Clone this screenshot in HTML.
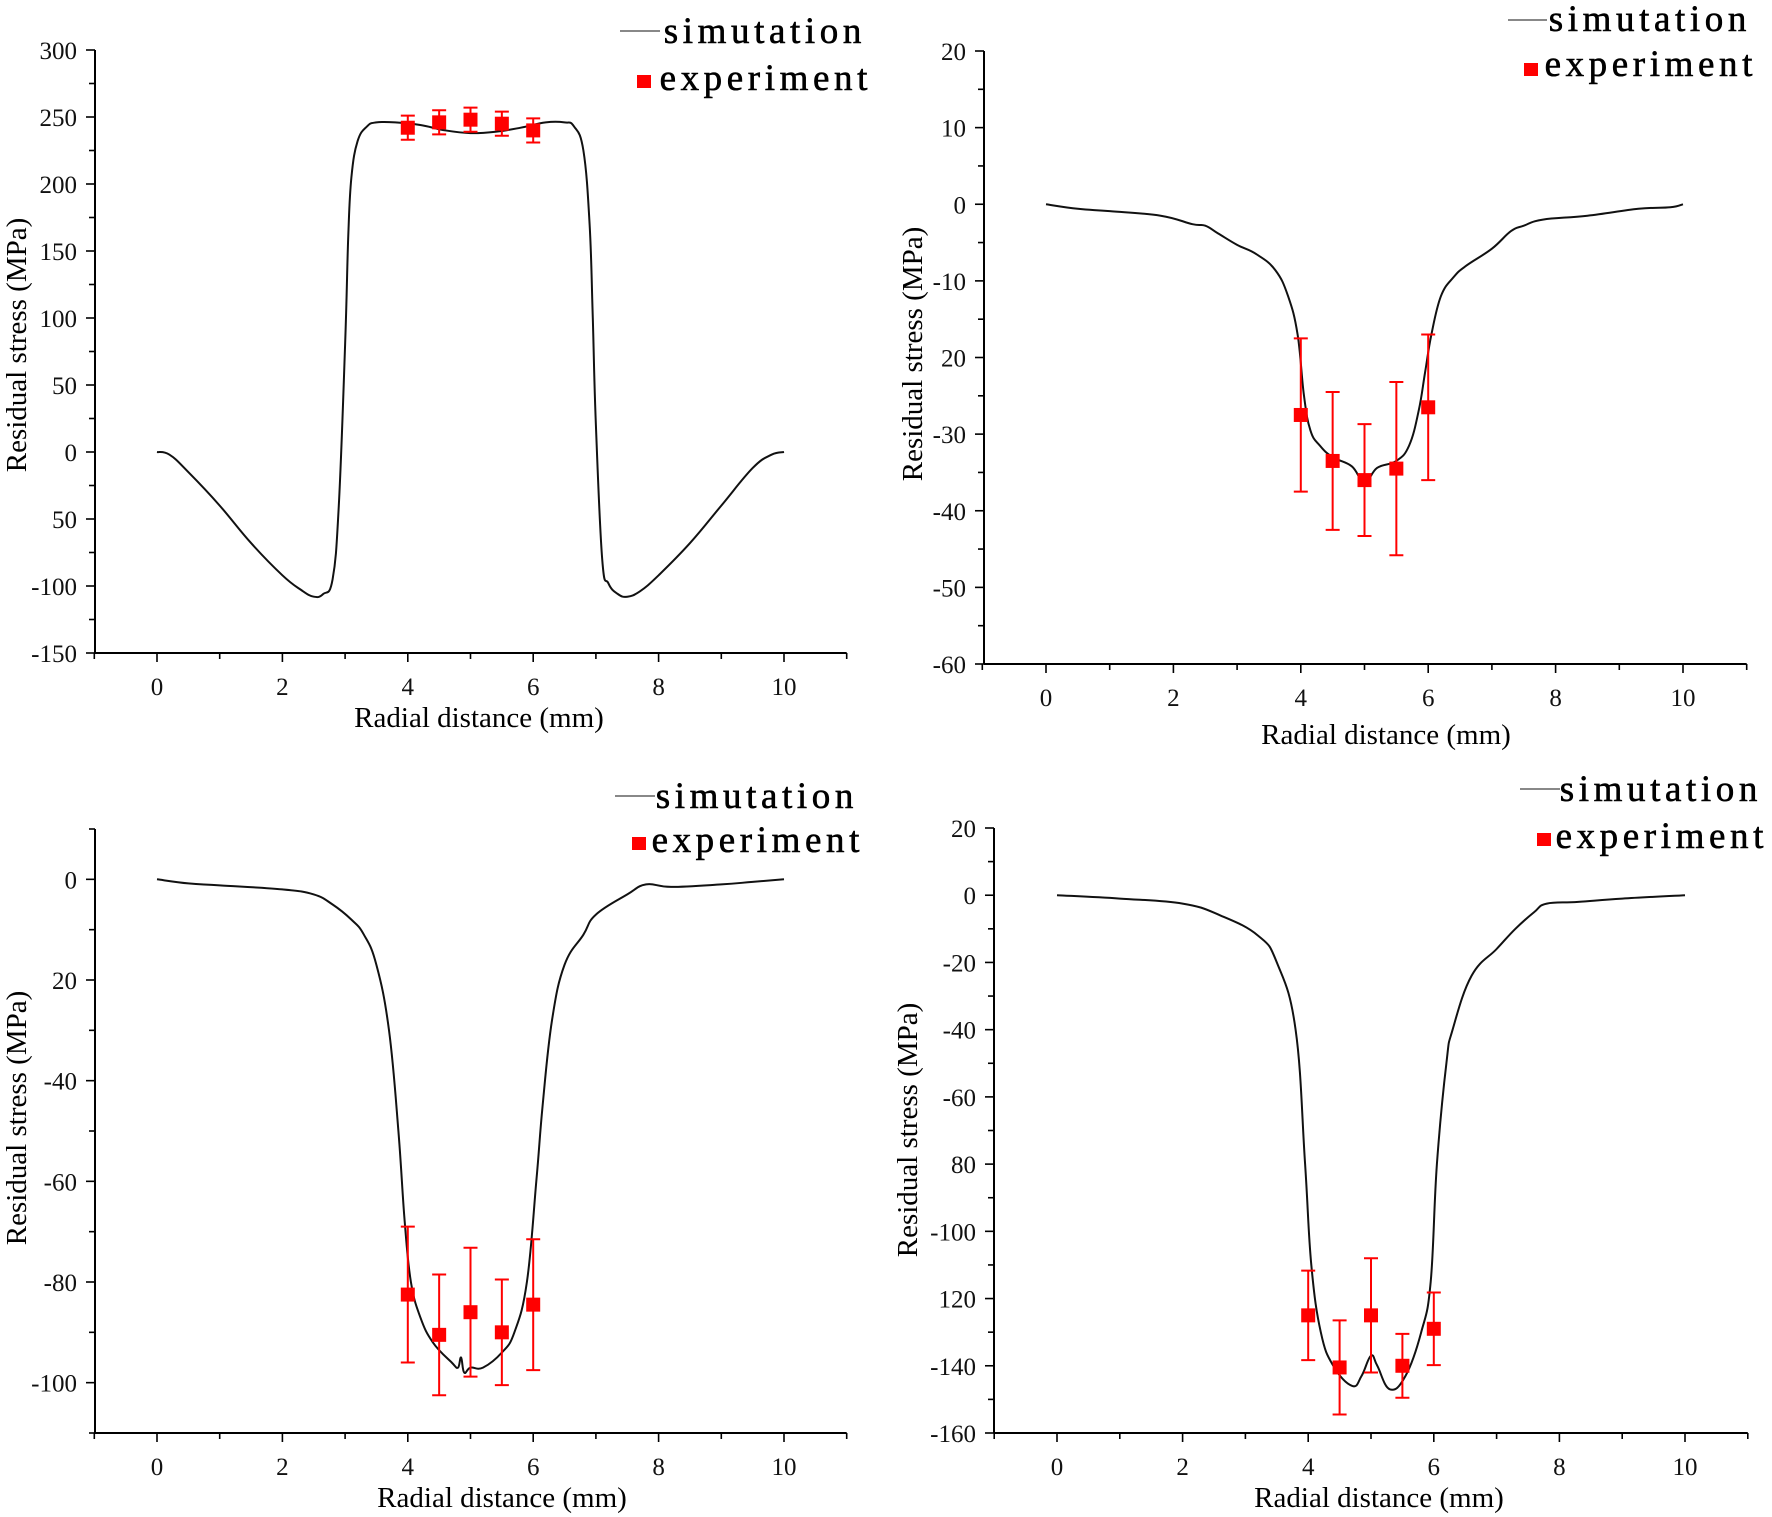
<!DOCTYPE html>
<html><head><meta charset="utf-8"><style>
html,body{margin:0;padding:0;background:#fff;}
svg{display:block;font-family:"Liberation Serif",serif;}
</style></head><body>
<svg id="fig" width="1772" height="1517" viewBox="0 0 1772 1517" xmlns="http://www.w3.org/2000/svg"></svg>
<script>
// ---- Panel data (top-level arrays) ----
const p1SimX=[0,0.2,0.5,1,1.5,2,2.3,2.5,2.65,2.8,2.9,3.0,3.05,3.1,3.2,3.35,3.5,3.8,4.2,4.6,5,5.4,5.8,6.2,6.5,6.65,6.8,6.9,6.95,7.0,7.1,7.2,7.35,7.5,7.7,8,8.5,9,9.5,9.8,10];
const p1SimY=[0,-2,-15,-40,-68,-92,-103,-108,-106,-95,-40,80,160,205,232,243,246,246,244,240,238,239,242,246,246,243,225,170,100,20,-80,-98,-106,-108,-104,-92,-68,-40,-12,-2,0];
const p1ExpX=[4,4.5,5,5.5,6];
const p1ExpY=[242,246,248,245,240];
const p1ExpErr=[9,9,9,9,9];
const p1YTicks=[300,250,200,150,100,50,0,-50,-100,-150];
const p1YLabels=["300","250","200","150","100","50","0","50","-100","-150"];

const p2SimX=[0,0.5,1,1.8,2.3,2.5,2.7,3,3.3,3.6,3.8,3.95,4.05,4.15,4.3,4.5,4.8,5,5.2,5.5,5.7,5.85,5.95,6.05,6.2,6.4,6.6,7,7.3,7.5,7.8,8.5,9.3,9.8,10];
const p2SimY=[0,-0.6,-0.9,-1.5,-2.6,-2.8,-3.8,-5.3,-6.5,-8.6,-12,-17,-25,-29.5,-31.5,-33,-34.2,-36.3,-34.4,-33.5,-31.5,-27,-22,-17,-12,-9.5,-8,-5.8,-3.5,-2.8,-2,-1.5,-0.6,-0.4,0];
const p2ExpX=[4,4.5,5,5.5,6];
const p2ExpY=[-27.5,-33.5,-36,-34.5,-26.5];
const p2ExpErr=[10,9,7.3,11.3,9.5];
const p2YTicks=[20,10,0,-10,-20,-30,-40,-50,-60];
const p2YLabels=["20","10","0","-10","20","-30","-40","-50","-60"];

const p3SimX=[0,0.5,1,2,2.5,2.8,3.1,3.3,3.5,3.7,3.85,3.95,4.05,4.2,4.4,4.7,4.8,4.85,4.9,5.0,5.2,5.5,5.7,5.9,6.05,6.15,6.3,6.5,6.8,7,7.5,7.8,8.2,9,9.5,10];
const p3SimY=[0,-0.8,-1.2,-2,-3,-5,-8,-11,-17,-30,-50,-68,-80,-87,-92,-96,-97,-95,-98,-97,-97,-94,-90,-80,-60,-45,-28,-17,-11,-7,-3,-1,-1.5,-1,-0.5,0];
const p3ExpX=[4,4.5,5,5.5,6];
const p3ExpY=[-82.5,-90.5,-86,-90,-84.5];
const p3ExpErr=[13.5,12,12.8,10.5,13];
const p3YTicks=[0,-20,-40,-60,-80,-100];
const p3YLabels=["0","20","-40","-60","-80","-100"];

const p4SimX=[0,1,2,2.6,3.2,3.5,3.8,3.95,4.05,4.2,4.4,4.7,4.85,5,5.1,5.3,5.55,5.8,5.95,6.05,6.2,6.3,6.6,7,7.3,7.6,7.8,8.3,9,10];
const p4SimY=[0,-1,-2.5,-6,-12,-20,-40,-80,-110,-130,-140,-146,-143,-137,-140,-147,-143,-130,-115,-80,-50,-40,-24,-16,-10,-5,-2.5,-2,-1,0];
const p4ExpX=[4,4.5,5,5.5,6];
const p4ExpY=[-125,-140.5,-125,-140,-129];
const p4ExpErr=[13.3,14,17,9.5,10.8];
const p4YTicks=[20,0,-20,-40,-60,-80,-100,-120,-140,-160];
const p4YLabels=["20","0","-20","-40","-60","80","-100","120","-140","-160"];

const xTicks=[0,2,4,6,8,10];
const xLabels=["0","2","4","6","8","10"];

const NS="http://www.w3.org/2000/svg";
const svg=document.getElementById('fig');
function mk(tag,attrs,parent){const e=document.createElementNS(NS,tag);for(const k in attrs)e.setAttribute(k,attrs[k]);(parent||svg).appendChild(e);return e;}
function smooth(pts){
 let d='M'+pts[0][0].toFixed(1)+','+pts[0][1].toFixed(1);
 for(let i=0;i<pts.length-1;i++){
  const p0=pts[Math.max(0,i-1)],p1=pts[i],p2=pts[i+1],p3=pts[Math.min(pts.length-1,i+2)];
  const t=0.2;
  const c1=[p1[0]+(p2[0]-p0[0])*t,p1[1]+(p2[1]-p0[1])*t];
  const c2=[p2[0]-(p3[0]-p1[0])*t,p2[1]-(p3[1]-p1[1])*t];
  d+='C'+c1[0].toFixed(1)+','+c1[1].toFixed(1)+' '+c2[0].toFixed(1)+','+c2[1].toFixed(1)+' '+p2[0].toFixed(1)+','+p2[1].toFixed(1);
 }
 return d;
}

const panels=[
 {id:'p1',ax:95,ay:653,x0:157,x10:784,yTop:300,yTopPx:50,yBot:-150,yMinor:25,sx:p1SimX,sy:p1SimY,ex:p1ExpX,ey:p1ExpY,ee:p1ExpErr,yt:p1YTicks,yl:p1YLabels,
  xt:[479,727],yt2:[16,345],leg:{lx1:620,lx2:660,ly:31,tEnd:863,tb1:43,sqx:637,sqy:75,tb2:90}},
 {id:'p2',ax:984,ay:664,x0:1046,x10:1683,yTop:20,yTopPx:51,yBot:-60,yMinor:5,sx:p2SimX,sy:p2SimY,ex:p2ExpX,ey:p2ExpY,ee:p2ExpErr,yt:p2YTicks,yl:p2YLabels,
  xt:[1386,744],yt2:[912,354],leg:{lx1:1508,lx2:1547,ly:20,tEnd:1748,tb1:31,sqx:1524,sqy:63,tb2:76}},
 {id:'p3',ax:95,ay:1433,x0:157,x10:784,yTop:10,yTopPx:829,yBot:-110,yMinor:10,sx:p3SimX,sy:p3SimY,ex:p3ExpX,ey:p3ExpY,ee:p3ExpErr,yt:p3YTicks,yl:p3YLabels,
  xt:[502,1507],yt2:[16,1118],leg:{lx1:615,lx2:655,ly:796,tEnd:855,tb1:808,sqx:632,sqy:837,tb2:852}},
 {id:'p4',ax:994,ay:1433,x0:1057,x10:1685,yTop:20,yTopPx:828,yBot:-160,yMinor:10,sx:p4SimX,sy:p4SimY,ex:p4ExpX,ey:p4ExpY,ee:p4ExpErr,yt:p4YTicks,yl:p4YLabels,
  xt:[1379,1507],yt2:[907,1130],leg:{lx1:1520,lx2:1560,ly:789,tEnd:1759,tb1:801,sqx:1537,sqy:833,tb2:848}}
];

panels.forEach(P=>{
 const g=mk('g',{});
 
 
 const X=v=>P.x0+(P.x10-P.x0)*v/10;
 const Y=v=>P.yTopPx+(P.ay-P.yTopPx)*(P.yTop-v)/(P.yTop-P.yBot);
 const xEnd=X(11);
 const ya=mk('line',{x1:P.ax,y1:P.yTopPx,x2:P.ax,y2:P.ay,stroke:'#000','stroke-width':2},g);
 
 
 const xa=mk('line',{x1:P.ax,y1:P.ay,x2:xEnd,y2:P.ay,stroke:'#000','stroke-width':2},g);
 
 
 for(let i=-1;i<=11;i++){
  const L=(i%2===0)?9:6;
  mk('line',{x1:X(i),y1:P.ay,x2:X(i),y2:P.ay+L,stroke:'#000','stroke-width':1.6},g);
 }
 xTicks.forEach((v,i)=>{
  const t=mk('text',{x:X(v),y:P.ay+42,'font-size':25,'text-anchor':'middle',fill:'#111'},g);
  t.textContent=xLabels[i];
  
  
 });
 for(let v=P.yBot;v<=P.yTop+1e-9;v+=P.yMinor){
  const major=P.yt.some(m=>Math.abs(m-v)<1e-6);
  mk('line',{x1:P.ax,y1:Y(v),x2:P.ax-(major?9:6),y2:Y(v),stroke:'#000','stroke-width':1.6},g);
 }
 P.yt.forEach((v,i)=>{
  const t=mk('text',{x:P.ax-18,y:Y(v)+9,'font-size':25,'text-anchor':'end',fill:'#111'},g);
  t.textContent=P.yl[i];
  
  
 });
 const xt=mk('text',{x:P.xt[0],y:P.xt[1],'font-size':29,'text-anchor':'middle',fill:'#000'},g);
 xt.textContent='Radial distance (mm)';
 
 
 const yt=mk('text',{x:0,y:0,'font-size':29,'text-anchor':'middle',fill:'#000',transform:`translate(${P.yt2[0]+10},${P.yt2[1]}) rotate(-90)`},g);
 yt.textContent='Residual stress (MPa)';
 
 
 const pts=P.sx.map((v,i)=>[X(v),Y(P.sy[i])]);
 const sim=mk('path',{d:smooth(pts),fill:'none',stroke:'#111','stroke-width':2,'stroke-linejoin':'round'},g);
 
 
 P.ex.forEach((v,i)=>{
  const cx=X(v),cy=Y(P.ey[i]),t=Y(P.ey[i]+P.ee[i]),b=Y(P.ey[i]-P.ee[i]);
  const eb=mk('path',{d:`M${cx},${t}L${cx},${b}M${cx-7},${t}L${cx+7},${t}M${cx-7},${b}L${cx+7},${b}`,stroke:'#f00','stroke-width':2,fill:'none'},g);
  
  
  const r=mk('rect',{x:cx-7,y:cy-7,width:14,height:14,fill:'#f00'},g);
  
  
 });
 const Lg=P.leg;
 const lg=mk('g',{},g);
 
 
 mk('line',{x1:Lg.lx1,y1:Lg.ly,x2:Lg.lx2,y2:Lg.ly,stroke:'#888','stroke-width':2},lg);
 const t1=mk('text',{x:Lg.tEnd+3,y:Lg.tb1,'font-size':37,'text-anchor':'end','letter-spacing':4.6,fill:'#000',stroke:'#000','stroke-width':0.6},lg);
 t1.textContent='simutation';
 
 
 mk('rect',{x:Lg.sqx,y:Lg.sqy,width:14,height:13,fill:'#f00'},lg);
 const t2=mk('text',{x:Lg.tEnd+9,y:Lg.tb2,'font-size':37,'text-anchor':'end','letter-spacing':4.6,fill:'#000',stroke:'#000','stroke-width':0.6},lg);
 t2.textContent='experiment';
 
 
});
</script>
</body></html>
